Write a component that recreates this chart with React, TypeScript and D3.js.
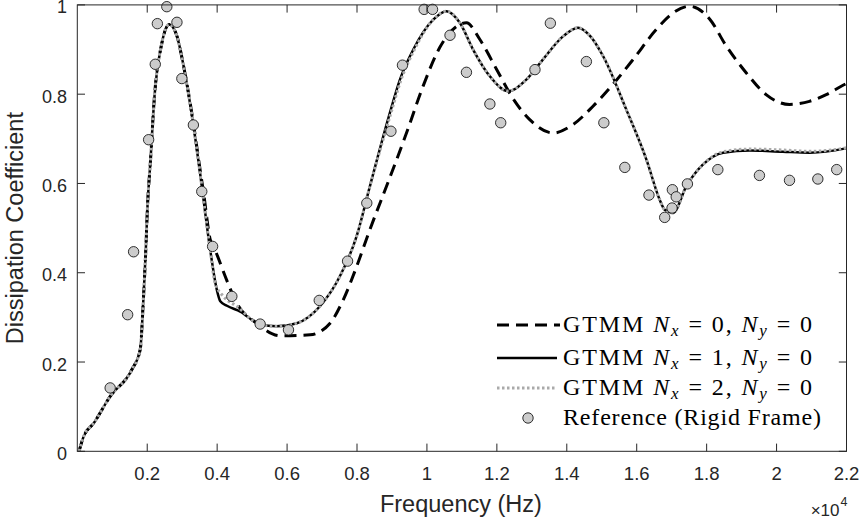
import React from 'react';
import * as d3 from 'd3';

const W = 863;
const H = 525;
const X0 = 77.3;
const X1 = 846.5;
const Y0 = 451.3;
const Y1 = 4.9;

const xTicks = [2000, 4000, 6000, 8000, 10000, 12000, 14000, 16000, 18000, 20000, 22000];
const xTickLabels = ['0.2', '0.4', '0.6', '0.8', '1', '1.2', '1.4', '1.6', '1.8', '2', '2.2'];
const yTicks = [0, 0.2, 0.4, 0.6, 0.8, 1];
const yTickLabels = ['0', '0.2', '0.4', '0.6', '0.8', '1'];

// GTMM Nx=0, Ny=0 (dashed)
const nx0Freq = [50, 180, 470, 940, 1560, 1800, 1890, 1960, 2010, 2090, 2200, 2420, 2630, 2850, 3040, 3280, 3510, 3610, 3800, 3940, 4270, 4560, 5130, 5800, 6660, 7230, 7610, 7990, 8370, 8890, 9420, 9890, 10370, 10850, 11130, 11510, 11990, 12470, 12940, 13610, 14180, 14750, 15320, 15900, 16560, 17040, 17510, 18090, 18560, 19130, 19700, 20370, 20940, 21420, 21900, 22000];
const nx0Val = [0.0, 0.033, 0.063, 0.123, 0.183, 0.228, 0.34, 0.452, 0.553, 0.647, 0.788, 0.915, 0.956, 0.93, 0.863, 0.755, 0.632, 0.58, 0.475, 0.451, 0.384, 0.332, 0.287, 0.259, 0.261, 0.287, 0.34, 0.414, 0.497, 0.603, 0.714, 0.818, 0.905, 0.952, 0.96, 0.923, 0.856, 0.789, 0.743, 0.713, 0.732, 0.773, 0.822, 0.878, 0.945, 0.982, 0.997, 0.968, 0.908, 0.848, 0.799, 0.777, 0.784, 0.799, 0.82, 0.824];

// GTMM Nx=1, Ny=0 (solid)
const nx1Freq = [50, 180, 470, 940, 1560, 1800, 1890, 1960, 2010, 2090, 2200, 2420, 2630, 2850, 3040, 3280, 3510, 3610, 3800, 3990, 4090, 4280, 4660, 5230, 5700, 6280, 6940, 7510, 7990, 8370, 8940, 9230, 9610, 10180, 10560, 10940, 11320, 11800, 12320, 12850, 13320, 13900, 14320, 14670, 15040, 15700, 16280, 16660, 16800, 17040, 17420, 17890, 18470, 19230, 20180, 20940, 21940, 22000];
const nx1Val = [0.0, 0.033, 0.063, 0.123, 0.183, 0.228, 0.34, 0.452, 0.553, 0.647, 0.788, 0.915, 0.956, 0.93, 0.863, 0.751, 0.624, 0.564, 0.452, 0.362, 0.336, 0.326, 0.313, 0.284, 0.28, 0.287, 0.325, 0.392, 0.482, 0.594, 0.758, 0.833, 0.9, 0.967, 0.986, 0.96, 0.9, 0.84, 0.807, 0.833, 0.878, 0.93, 0.949, 0.93, 0.885, 0.766, 0.653, 0.563, 0.541, 0.534, 0.594, 0.642, 0.669, 0.674, 0.671, 0.669, 0.678, 0.679];

// GTMM Nx=2, Ny=0 (dotted grey)
const nx2Freq = [50, 180, 470, 940, 1560, 1800, 1890, 1960, 2010, 2090, 2200, 2420, 2630, 2850, 3040, 3280, 3510, 3610, 3800, 3940, 4180, 4560, 5230, 5700, 6280, 6940, 7510, 7990, 8370, 8960, 9250, 9630, 10180, 10560, 10940, 11320, 11800, 12320, 12850, 13320, 13900, 14320, 14670, 15040, 15700, 16280, 16660, 16800, 17040, 17420, 17890, 18470, 19230, 20180, 20940, 21940, 22000];
const nx2Val = [0.0, 0.033, 0.063, 0.123, 0.183, 0.228, 0.34, 0.452, 0.553, 0.647, 0.788, 0.915, 0.956, 0.93, 0.863, 0.751, 0.624, 0.564, 0.452, 0.377, 0.347, 0.325, 0.284, 0.28, 0.287, 0.325, 0.392, 0.482, 0.594, 0.755, 0.83, 0.898, 0.967, 0.986, 0.96, 0.9, 0.84, 0.807, 0.833, 0.878, 0.93, 0.949, 0.93, 0.885, 0.766, 0.653, 0.563, 0.541, 0.534, 0.594, 0.642, 0.671, 0.677, 0.675, 0.672, 0.679, 0.68];

// Reference (Rigid Frame)
const refFreq = [940, 1440, 1610, 2040, 2230, 2290, 2560, 2850, 2990, 3320, 3560, 3870, 4420, 5230, 6040, 6920, 7730, 8280, 8970, 9300, 9920, 10160, 10660, 11130, 11800, 12110, 13090, 13530, 14560, 15060, 15660, 16350, 16800, 17010, 17020, 17130, 17450, 18320, 19510, 20370, 21180, 21720];
const refVal = [0.142, 0.306, 0.447, 0.698, 0.867, 0.958, 0.996, 0.961, 0.835, 0.731, 0.582, 0.459, 0.347, 0.285, 0.272, 0.338, 0.426, 0.556, 0.717, 0.865, 0.99, 0.99, 0.932, 0.849, 0.778, 0.736, 0.855, 0.959, 0.873, 0.736, 0.636, 0.574, 0.524, 0.545, 0.586, 0.57, 0.599, 0.631, 0.618, 0.607, 0.61, 0.631];

const legendLabels = ['GTMM', 'Reference (Rigid Frame)'];

const x = d3.scaleLinear().domain([0, 22000]).range([X0, X1]);
const y = d3.scaleLinear().domain([0, 1]).range([Y0, Y1]);

const toPts = (f: number[], v: number[]) => f.map((d, i) => [d, v[i]] as [number, number]);

const line = d3
  .line<[number, number]>()
  .x((d) => x(d[0]))
  .y((d) => y(d[1]))
  .curve(d3.curveMonotoneX);

const AX = '#262626';
const SANS = "'Liberation Sans', Arial, Helvetica, sans-serif";
const SERIF = "'Liberation Serif', 'Times New Roman', serif";

function LegendText({ xPos, yPos, n }: { xPos: number; yPos: number; n: string }) {
  return (
    <text x={xPos} y={yPos} fontFamily={SERIF} fontSize={24} fill="#000" textLength={249} lengthAdjust="spacing">
      {legendLabels[0]}{' '}
      <tspan fontStyle="italic">N</tspan>
      <tspan fontStyle="italic" fontSize={17} dy={4}>x</tspan>
      <tspan dy={-4}>{' = ' + n + ', '}</tspan>
      <tspan fontStyle="italic">N</tspan>
      <tspan fontStyle="italic" fontSize={17} dy={4}>y</tspan>
      <tspan dy={-4}>{' = 0'}</tspan>
    </text>
  );
}

export default function App() {
  const tickLen = 7.7;
  const legX0 = 497;
  const legX1 = 557;
  const legTextX = 563;
  const rows = [325, 358, 388, 418];
  return (
    <svg
      width={W}
      height={H}
      viewBox={`0 0 ${W} ${H}`}
      style={{ position: 'absolute', left: 0, top: 0, background: '#fff' }}
    >
      <defs>
        <clipPath id="plotClip">
          <rect x={X0} y={Y1 - 3} width={X1 - X0} height={Y0 - Y1 + 3} />
        </clipPath>
      </defs>
      <rect x={0} y={0} width={W} height={H} fill="#fff" />
      <g clipPath="url(#plotClip)">
        <path d={line(toPts(nx0Freq, nx0Val)) || ''} fill="none" stroke="#000" strokeWidth={3} strokeDasharray="12,7" />
        <path d={line(toPts(nx1Freq, nx1Val)) || ''} fill="none" stroke="#000" strokeWidth={2.5} />
        <path d={line(toPts(nx2Freq, nx2Val)) || ''} fill="none" stroke="#aaaaaa" strokeWidth={3} strokeDasharray="2.5,2.5" />
      </g>
      {refFreq.map((f, i) => (
        <circle key={i} cx={x(f)} cy={y(refVal[i])} r={5.2} fill="#cccccc" stroke="#1a1a1a" strokeWidth={0.9} />
      ))}
      {/* axes box */}
      <rect x={X0} y={Y1} width={X1 - X0} height={Y0 - Y1} fill="none" stroke={AX} strokeWidth={1} />
      {xTicks.map((t, i) => (
        <g key={'xt' + i}>
          <line x1={x(t)} x2={x(t)} y1={Y0} y2={Y0 - tickLen} stroke={AX} strokeWidth={1} />
          <line x1={x(t)} x2={x(t)} y1={Y1} y2={Y1 + tickLen} stroke={AX} strokeWidth={1} />
          <text x={x(t)} y={480} textAnchor="middle" fontFamily={SANS} fontSize={18.5} fill={AX}>
            {xTickLabels[i]}
          </text>
        </g>
      ))}
      {yTicks.map((t, i) => (
        <g key={'yt' + i}>
          <line x1={X0} x2={X0 + tickLen} y1={y(t)} y2={y(t)} stroke={AX} strokeWidth={1} />
          <line x1={X1} x2={X1 - tickLen} y1={y(t)} y2={y(t)} stroke={AX} strokeWidth={1} />
          <text x={67} y={y(t) + 8.5} textAnchor="end" fontFamily={SANS} fontSize={18} fill={AX}>
            {yTickLabels[i]}
          </text>
        </g>
      ))}
      <text x={(X0 + X1) / 2 - 1} y={512} textAnchor="middle" fontFamily={SANS} fontSize={23.5} fill={AX}>
        Frequency (Hz)
      </text>
      <text
        transform={`translate(23, ${(Y0 + Y1) / 2}) rotate(-90)`}
        textAnchor="middle"
        fontFamily={SANS}
        fontSize={23.5}
        fill={AX}
      >
        Dissipation Coefficient
      </text>
      <text x={X1 - 7} y={516} textAnchor="end" fontFamily={SANS} fontSize={17} fill={AX}>
        ×10
      </text>
      <text x={X1 + 1} y={506} textAnchor="end" fontFamily={SANS} fontSize={12.5} fill={AX}>
        4
      </text>
      {/* legend */}
      <line x1={legX0} x2={legX1 + 3} y1={rows[0]} y2={rows[0]} stroke="#000" strokeWidth={3} strokeDasharray="12,7" />
      <line x1={legX0} x2={legX1} y1={rows[1]} y2={rows[1]} stroke="#000" strokeWidth={2.5} />
      <line x1={legX0} x2={legX1} y1={rows[2]} y2={rows[2]} stroke="#aaaaaa" strokeWidth={3} strokeDasharray="2.5,2.5" />
      <circle cx={528} cy={rows[3]} r={5.2} fill="#cccccc" stroke="#1a1a1a" strokeWidth={0.9} />
      <LegendText xPos={legTextX} yPos={rows[0] + 7} n="0" />
      <LegendText xPos={legTextX} yPos={rows[1] + 7} n="1" />
      <LegendText xPos={legTextX} yPos={rows[2] + 7} n="2" />
      <text x={legTextX} y={rows[3] + 7} fontFamily={SERIF} fontSize={24} fill="#000" textLength={258} lengthAdjust="spacing">
        {legendLabels[1]}
      </text>
    </svg>
  );
}
